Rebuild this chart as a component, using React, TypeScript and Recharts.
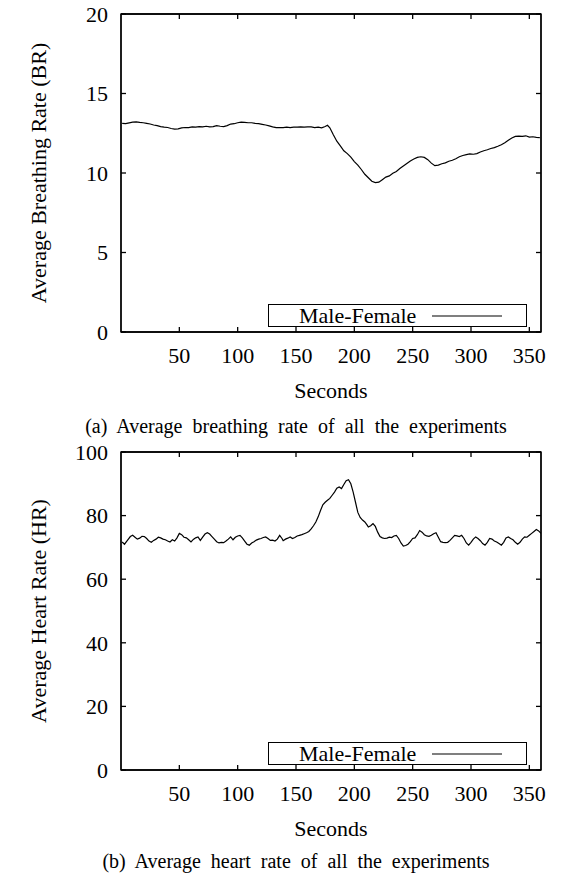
import { LineChart, Line, XAxis, YAxis, Legend, ReferenceArea } from "recharts";

const FONT = "'Liberation Serif', 'Times New Roman', serif";

// breathing rate (a)
const brSeconds = [
  1, 4, 7, 10, 13, 16, 19, 22, 25, 28, 31, 34, 37, 40, 43, 46, 49, 52, 55, 58,
  61, 64, 67, 70, 73, 76, 79, 82, 85, 88, 91, 94, 97, 100, 103, 106, 109, 112, 115, 118,
  121, 124, 127, 130, 133, 136, 139, 142, 145, 148, 151, 154, 157, 160, 163, 166, 169, 172, 175, 177,
  179, 182, 185, 188, 191, 194, 197, 200, 203, 206, 209, 212, 215, 218, 221, 224, 227, 230, 233, 236,
  239, 242, 245, 248, 251, 254, 257, 260, 263, 266, 269, 272, 275, 278, 281, 284, 287, 290, 293, 296,
  299, 302, 305, 308, 311, 314, 317, 320, 323, 326, 329, 332, 335, 338, 341, 344, 347, 350, 353, 356, 359,
];
const brValues = [
  13.12, 13.1, 13.15, 13.2, 13.22, 13.18, 13.16, 13.12, 13.08, 13.02, 12.98, 12.92, 12.88, 12.86, 12.8, 12.76, 12.78, 12.84, 12.86, 12.86,
  12.9, 12.88, 12.92, 12.9, 12.94, 12.9, 12.92, 12.98, 12.94, 12.92, 12.98, 13.08, 13.1, 13.16, 13.2, 13.18, 13.16, 13.16, 13.12, 13.1,
  13.06, 13.02, 12.96, 12.9, 12.86, 12.86, 12.86, 12.88, 12.86, 12.88, 12.88, 12.9, 12.88, 12.9, 12.9, 12.86, 12.88, 12.84, 12.92, 13.0,
  12.84, 12.4, 12.0, 11.7, 11.4, 11.22, 11.0, 10.72, 10.5, 10.22, 9.92, 9.7, 9.48, 9.4, 9.42, 9.58, 9.74, 9.82, 9.98, 10.1,
  10.28, 10.44, 10.6, 10.76, 10.88, 10.98, 11.02, 10.98, 10.84, 10.62, 10.46, 10.5, 10.58, 10.64, 10.74, 10.8, 10.9, 11.02, 11.1, 11.16,
  11.2, 11.18, 11.22, 11.32, 11.4, 11.46, 11.54, 11.6, 11.68, 11.78, 11.9, 12.06, 12.2, 12.3, 12.32, 12.3, 12.34, 12.26, 12.28, 12.24, 12.22,
];

// heart rate (b)
const hrSeconds = [
  1, 3, 5, 8, 10, 12, 14, 16, 18, 20, 22, 24, 26, 28, 30, 32, 34, 36, 38, 40,
  42, 44, 46, 48, 50, 52, 54, 56, 58, 60, 62, 64, 66, 68, 70, 72, 74, 76, 78, 80,
  82, 84, 86, 88, 90, 92, 94, 96, 98, 100, 102, 104, 106, 108, 110, 112, 114, 116, 118, 120,
  122, 124, 126, 128, 130, 132, 134, 136, 138, 139, 141, 143, 145, 147, 149, 151, 153, 155, 157, 159,
  161, 163, 165, 167, 169, 171, 173, 175, 177, 179, 181, 183, 185, 187, 189, 191, 193, 195, 197, 199,
  201, 203, 205, 207, 209, 211, 212, 214, 216, 218, 220, 222, 224, 226, 228, 230, 232, 234, 236, 238,
  240, 242, 244, 246, 248, 250, 252, 254, 256, 258, 260, 262, 264, 266, 268, 270, 272, 274, 276, 278,
  280, 282, 284, 286, 288, 290, 292, 294, 296, 298, 300, 302, 304, 306, 308, 310, 312, 314, 316, 318,
  320, 322, 324, 326, 328, 330, 332, 334, 336, 338, 340, 342, 344, 346, 348, 350, 352, 354, 356, 358, 360,
];
const hrValues = [
  71.7, 71.0, 72.0, 73.4, 73.8, 73.2, 72.6, 72.9, 73.5, 73.4, 72.8, 72.0, 71.6, 72.2, 72.6, 73.2, 73.0, 72.6, 72.4, 72.0,
  71.7, 72.4, 72.0, 73.0, 74.4, 74.0, 73.2, 73.0, 72.4, 71.7, 72.5, 73.0, 73.3, 72.2, 73.2, 74.2, 74.6, 74.2, 73.4, 72.6,
  71.8, 71.4, 71.6, 71.5, 72.0, 72.6, 73.3, 72.4, 73.2, 73.6, 73.8, 73.0, 72.0, 71.0, 70.7, 71.4, 71.8, 72.3, 72.6, 72.8,
  73.1, 73.3, 72.8, 72.2, 72.3, 72.0, 72.6, 73.8, 72.8, 72.1, 72.6, 72.9, 73.3, 72.8, 73.1, 73.6, 73.8, 74.0, 74.3, 74.6,
  75.0, 75.8, 76.8, 78.0, 79.6, 81.6, 83.4, 84.2, 84.8, 85.4, 86.4, 87.4, 88.6, 89.0, 88.5, 89.8, 91.0, 91.3, 90.0, 87.4,
  84.2, 81.0, 79.4, 78.6, 78.0, 77.0, 76.4, 76.8, 77.5, 76.6, 74.8, 73.4, 73.0, 72.8, 72.9, 73.2, 73.1, 73.6, 73.8, 72.8,
  71.4, 70.4, 70.6, 71.0, 71.8, 72.8, 73.0, 74.0, 75.3, 74.8, 74.0, 73.6, 73.5, 73.8, 74.3, 74.6, 73.2, 71.8, 71.6, 71.5,
  71.6, 72.2, 73.0, 73.8, 73.6, 73.4, 73.8, 72.8, 71.4, 70.7, 71.6, 72.6, 73.3, 72.8, 72.1, 71.2, 70.7, 71.6, 72.8, 72.6,
  72.0, 71.7, 71.2, 70.7, 71.6, 73.0, 73.3, 72.8, 72.4, 71.6, 71.0, 71.6, 72.6, 73.3, 73.2, 73.8, 74.4, 75.0, 75.6, 75.2, 74.4,
];

const xTicks = [50, 100, 150, 200, 250, 300, 350];
const brTicks = [0, 5, 10, 15, 20];
const hrTicks = [0, 20, 40, 60, 80, 100];
const seriesName = "Male-Female";

const brData = brSeconds.map((t, i) => ({ t, v: brValues[i] }));
const hrData = hrSeconds.map((t, i) => ({ t, v: hrValues[i] }));

const tickStyle = { fill: "#000", fontSize: 22, fontFamily: FONT };

function LegendBox() {
  return (
    <div
      style={{
        boxSizing: "border-box",
        width: 259,
        height: 23,
        border: "1px solid #000",
        background: "#fff",
        display: "flex",
        alignItems: "center",
        fontFamily: FONT,
        fontSize: 22,
        lineHeight: "21px",
        color: "#000",
      }}
    >
      <span style={{ marginLeft: 30 }}>{seriesName}</span>
      <svg width={70} height={6} style={{ marginLeft: 16 }}>
        <line x1={0} y1={3} x2={70} y2={3} stroke="#000" strokeWidth={1.2} />
      </svg>
    </div>
  );
}

function Panel({ data, yMax, yTicks, yLabel, top, caption, captionTop }: any) {
  return (
    <>
      <div style={{ position: "absolute", left: 0, top }}>
        <LineChart width={562} height={410} data={data} margin={{ top: 13, right: 20, bottom: 0, left: 0 }}>
          <XAxis
            xAxisId="b"
            dataKey="t"
            type="number"
            domain={[0, 360]}
            allowDataOverflow
            ticks={xTicks}
            height={78}
            stroke="#000"
            strokeWidth={1.3}
            tickSize={-5}
            tickMargin={20}
            tick={tickStyle}
            label={{ value: "Seconds", position: "insideBottom", offset: 12, fill: "#000", fontSize: 22, fontFamily: FONT }}
          />
          <XAxis
            xAxisId="t"
            dataKey="t"
            orientation="top"
            type="number"
            domain={[0, 360]}
            allowDataOverflow
            ticks={xTicks}
            height={1}
            stroke="#000"
            strokeWidth={1.3}
            tickSize={-5}
            tickFormatter={() => ""}
          />
          <YAxis
            yAxisId="l"
            type="number"
            domain={[0, yMax]}
            allowDataOverflow
            ticks={yTicks}
            width={121}
            stroke="#000"
            strokeWidth={1.3}
            tickSize={-5}
            tickMargin={18}
            tick={tickStyle}
            label={{
              value: yLabel,
              angle: -90,
              position: "insideLeft",
              offset: 38,
              fill: "#000",
              fontSize: 22,
              fontFamily: FONT,
              style: { textAnchor: "middle" },
            }}
          />
          <YAxis
            yAxisId="r"
            orientation="right"
            type="number"
            domain={[0, yMax]}
            allowDataOverflow
            ticks={yTicks}
            width={1}
            stroke="#000"
            strokeWidth={1.3}
            tickSize={-5}
            tickFormatter={() => ""}
          />
          <ReferenceArea
            xAxisId="b"
            yAxisId="l"
            x1={0}
            x2={360}
            y1={0}
            y2={yMax}
            fill="none"
            fillOpacity={0}
            stroke="#000"
            strokeWidth={1.3}
            ifOverflow="visible"
          />
          <Legend
            layout="vertical"
            align="center"
            verticalAlign="middle"
            wrapperStyle={{ position: "absolute", left: 268, top: 304, width: 259, height: 23 }}
            content={() => <LegendBox />}
          />
          <Line
            xAxisId="b"
            yAxisId="l"
            dataKey="v"
            name={seriesName}
            type="linear"
            stroke="#000"
            strokeWidth={1.2}
            dot={false}
            isAnimationActive={false}
          />
        </LineChart>
      </div>
      <div
        style={{
          position: "absolute",
          left: 0,
          width: 592,
          top: captionTop,
          textAlign: "center",
          fontFamily: FONT,
          fontSize: 20,
          lineHeight: "20px",
          wordSpacing: 5,
          color: "#000",
          whiteSpace: "nowrap",
        }}
      >
        {caption}
      </div>
    </>
  );
}

export default function App() {
  return (
    <div style={{ position: "absolute", left: 0, top: 0, width: 562, height: 880, background: "#fff" }}>
      <Panel
        data={brData}
        yMax={20}
        yTicks={brTicks}
        yLabel="Average Breathing Rate (BR)"
        top={0}
        caption="(a) Average breathing rate of all the experiments"
        captionTop={416}
      />
      <Panel
        data={hrData}
        yMax={100}
        yTicks={hrTicks}
        yLabel="Average Heart Rate (HR)"
        top={438}
        caption="(b) Average heart rate of all the experiments"
        captionTop={851}
      />
    </div>
  );
}
